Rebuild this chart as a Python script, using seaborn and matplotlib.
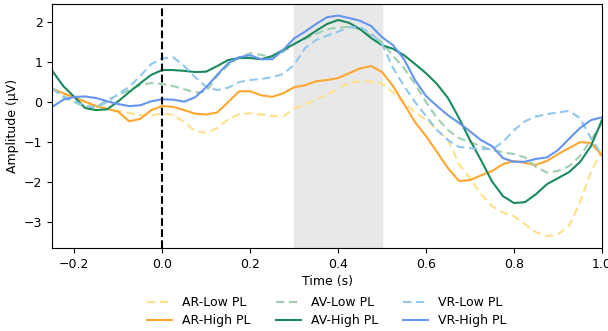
import numpy as np
import pandas as pd
import matplotlib
matplotlib.use("Agg")
import matplotlib.pyplot as plt
import seaborn as sns

# time axis (s), sampled every 25 ms
time = np.round(np.arange(-0.25, 1.0001, 0.025), 3)

ar_low = [0.30, 0.20, 0.08, -0.02, -0.10, -0.17, -0.22, -0.27, -0.32, -0.33,
          -0.29, -0.32, -0.50, -0.72, -0.77, -0.65, -0.43, -0.30, -0.28, -0.31,
          -0.35, -0.36, -0.16, -0.05, 0.06, 0.20, 0.33, 0.48, 0.52, 0.51,
          0.46, 0.24, -0.02, -0.25, -0.45, -0.68, -0.95, -1.55, -1.90, -2.30,
          -2.60, -2.76, -2.85, -3.05, -3.25, -3.35, -3.30, -3.10, -2.50, -1.75,
          -1.20]
ar_high = [0.34, 0.22, 0.12, 0.01, -0.10, -0.17, -0.24, -0.48, -0.42, -0.20,
           -0.10, -0.12, -0.20, -0.29, -0.31, -0.26, 0.00, 0.27, 0.27, 0.17,
           0.13, 0.22, 0.37, 0.42, 0.52, 0.55, 0.60, 0.72, 0.84, 0.90,
           0.75, 0.40, -0.05, -0.50, -0.85, -1.25, -1.65, -1.97, -1.95, -1.83,
           -1.72, -1.55, -1.47, -1.52, -1.57, -1.47, -1.30, -1.15, -1.00, -1.02,
           -1.33]
av_low = [0.34, 0.12, 0.00, -0.12, -0.12, 0.05, 0.18, 0.30, 0.42, 0.48,
          0.45, 0.40, 0.32, 0.24, 0.26, 0.65, 0.92, 1.12, 1.22, 1.18,
          1.12, 1.25, 1.45, 1.58, 1.70, 1.82, 1.86, 1.88, 1.82, 1.65,
          1.50, 1.15, 0.85, 0.45, 0.00, -0.40, -0.70, -0.90, -1.00, -1.10,
          -1.20, -1.25, -1.30, -1.38, -1.62, -1.76, -1.72, -1.60, -1.35, -0.95,
          -0.53]
av_high = [0.78, 0.40, 0.13, -0.15, -0.20, -0.18, 0.02, 0.25, 0.47, 0.68,
           0.80, 0.80, 0.78, 0.75, 0.76, 0.90, 1.05, 1.10, 1.10, 1.07,
           1.15, 1.30, 1.45, 1.60, 1.78, 1.95, 2.05, 1.98, 1.82, 1.60,
           1.42, 1.33, 1.17, 0.95, 0.72, 0.45, 0.10, -0.40, -0.95, -1.45,
           -1.98, -2.35, -2.52, -2.50, -2.30, -2.05, -1.90, -1.75, -1.50, -1.10,
           -0.45]
vr_low = [0.34, 0.15, 0.02, -0.10, -0.13, 0.00, 0.20, 0.38, 0.65, 0.95,
          1.09, 1.12, 0.90, 0.62, 0.38, 0.30, 0.36, 0.50, 0.55, 0.58,
          0.62, 0.70, 0.93, 1.35, 1.55, 1.66, 1.76, 1.87, 1.87, 1.72,
          1.45, 0.85, 0.40, 0.00, -0.35, -0.70, -0.95, -1.12, -1.15, -1.17,
          -1.18, -1.00, -0.70, -0.48, -0.36, -0.30, -0.26, -0.22, -0.40, -0.90,
          -1.33]
vr_high = [-0.12, 0.06, 0.13, 0.14, 0.10, 0.02, -0.05, -0.10, -0.08, 0.02,
           0.07, 0.06, 0.01, 0.12, 0.37, 0.68, 0.97, 1.12, 1.17, 1.07,
           1.07, 1.30, 1.59, 1.76, 1.95, 2.12, 2.16, 2.10, 2.03, 1.90,
           1.62, 1.42, 1.07, 0.55, 0.15, -0.10, -0.33, -0.52, -0.73, -0.95,
           -1.10, -1.40, -1.49, -1.49, -1.42, -1.38, -1.20, -0.92, -0.65, -0.45,
           -0.38]

conditions = ["AR-Low PL", "AR-High PL", "AV-Low PL", "AV-High PL", "VR-Low PL", "VR-High PL"]
series = [ar_low, ar_high, av_low, av_high, vr_low, vr_high]

colors = {
    "AR-Low PL": "#ffe08a",
    "AR-High PL": "#ffa630",
    "AV-Low PL": "#9fcfaf",
    "AV-High PL": "#1a8a5c",
    "VR-Low PL": "#90c8f0",
    "VR-High PL": "#6495f0",
}
dashes = {c: ((4, 2.2) if "Low" in c else "") for c in conditions}

df = pd.concat(
    [pd.DataFrame({"time": time, "amp": vals, "cond": name}) for name, vals in zip(conditions, series)],
    ignore_index=True,
)

plt.rcParams["font.size"] = 9

fig, ax = plt.subplots(figsize=(6.08, 3.31), dpi=100)

# window of interest
ax.axvspan(0.3, 0.5, color="#e8e8e8", zorder=0)

sns.lineplot(data=df, x="time", y="amp", hue="cond", style="cond",
             hue_order=conditions, style_order=conditions,
             palette=colors, dashes=dashes, linewidth=1.5, ax=ax)

# stimulus onset
ax.axvline(0, color="black", linestyle="--", linewidth=1.5)

ax.set_xlim(-0.25, 1.0)
ax.set_ylim(-3.65, 2.45)
ax.set_xlabel("Time (s)", labelpad=3)
ax.set_ylabel("Amplitude (µV)")

ax.legend(loc="upper center", bbox_to_anchor=(0.5, -0.15), ncol=3,
          frameon=False, handlelength=2.0, columnspacing=2.0, labelspacing=0.4)

fig.subplots_adjust(left=0.086, right=0.99, top=0.988, bottom=0.25)
fig.savefig("out.png", dpi=100)
